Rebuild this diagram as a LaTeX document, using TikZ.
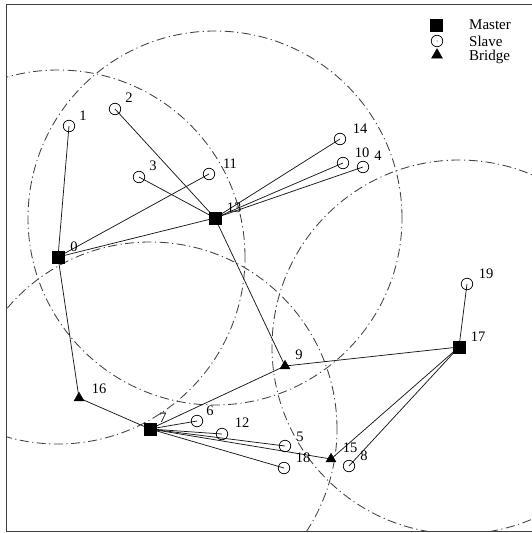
\documentclass[tikz,border=0pt]{standalone}
\usepackage{fontspec}
\setmainfont{Liberation Serif}
\usetikzlibrary{shapes.geometric}
\begin{document}
\begin{tikzpicture}[x=1pt,y=-1pt,
  master/.style={draw=black,fill=black,rectangle,minimum size=11.5pt,inner sep=0pt},
  slave/.style={draw=black,circle,minimum size=11.5pt,inner sep=0pt,line width=0.7pt},
  bridge/.style={draw=black,fill=black,isosceles triangle,isosceles triangle apex angle=60,shape border rotate=90,minimum width=10pt,minimum height=0pt,inner sep=0pt},
  lbl/.style={font=\fontsize{14.5}{16}\selectfont,inner sep=0pt},
  lgd/.style={font=\fontsize{15}{17}\selectfont,inner sep=0pt},
  link/.style={line width=0.75pt,black!90},
  rangecirc/.style={line width=0.85pt,black!75,dash pattern=on 9pt off 3.5pt on 1.2pt off 3.5pt},
  frameline/.style={line width=0.8pt,black!75}]
\useasboundingbox (0,0) rectangle (532,533);
% node positions
\coordinate (p0) at (58,257);
\coordinate (p13) at (215,218);
\coordinate (p7) at (150,429);
\coordinate (p17) at (459,347);
% range circles
\begin{scope}
\clip (6,4) rectangle (532,531);
\draw[rangecirc] (p0) circle (187pt);
\draw[rangecirc] (p13) circle (187pt);
\draw[rangecirc] (p7) circle (187pt);
\draw[rangecirc] (p17) circle (187pt);
\end{scope}
% frame
\coordinate (f1) at (6,531);
\coordinate (f2) at (6,4);
\coordinate (f3) at (532,4);
\coordinate (f4) at (532,531);
\draw[frameline] (f4) -- (f1) -- (f2) -- (f3);
% links
\draw[link] (p0) -- (69,126) coordinate (p1);
\draw[link] (p0) -- (209,174) coordinate (p11);
\draw[link] (p0) -- (p13);
\draw[link] (p0) -- (79,398) coordinate (p16);
\draw[link] (p13) -- (115,109) coordinate (p2);
\draw[link] (p13) -- (139,177) coordinate (p3);
\draw[link] (p13) -- (340,139) coordinate (p14);
\draw[link] (p13) -- (343,163) coordinate (p10);
\draw[link] (p13) -- (363,167) coordinate (p4);
\draw[link] (p13) -- (285,366) coordinate (p9);
\draw[link] (p16) -- (p7);
\draw[link] (p7) -- (197,421) coordinate (p6);
\draw[link] (p7) -- (222,434) coordinate (p12);
\draw[link] (p7) -- (p9);
\draw[link] (p7) -- (285,446) coordinate (p5);
\draw[link] (p7) -- (331,459) coordinate (p15);
\draw[link] (p7) -- (284,468) coordinate (p18);
\draw[link] (p9) -- (p17);
\draw[link] (p17) -- (467,284) coordinate (p19);
\draw[link] (p17) -- (p15);
\draw[link] (p17) -- (349,466) coordinate (p8);
% markers
\node[master] (n0) at (p0) {};
\node[master] (n13) at (p13) {};
\node[master] (n7) at (p7) {};
\node[master] (n17) at (p17) {};
\node[slave] (n1) at (p1) {};
\node[slave] (n2) at (p2) {};
\node[slave] (n3) at (p3) {};
\node[slave] (n11) at (p11) {};
\node[slave] (n14) at (p14) {};
\node[slave] (n10) at (p10) {};
\node[slave] (n4) at (p4) {};
\node[slave] (n6) at (p6) {};
\node[slave] (n12) at (p12) {};
\node[slave] (n5) at (p5) {};
\node[slave] (n18) at (p18) {};
\node[slave] (n8) at (p8) {};
\node[slave] (n19) at (p19) {};
\node[bridge] (n16) at (p16) {};
\node[bridge] (n9) at (p9) {};
\node[bridge] (n15) at (p15) {};
% labels
\node[lbl] (l0) at (74,247) {0};
\node[lbl] (l1) at (83,116) {1};
\node[lbl] (l2) at (129,98) {2};
\node[lbl] (l3) at (153,166) {3};
\node[lbl] (l11) at (230,164) {11};
\node[lbl] (l13) at (234,208) {13};
\node[lbl] (l14) at (360,129) {14};
\node[lbl] (l10) at (362,153) {10};
\node[lbl] (l4) at (378,156) {4};
\node[lbl] (l16) at (99,389) {16};
\node[lbl] (l7) at (163,418) {7};
\node[lbl] (l6) at (210,411) {6};
\node[lbl] (l12) at (242,423) {12};
\node[lbl] (l9) at (299,355) {9};
\node[lbl] (l17) at (478,337) {17};
\node[lbl] (l19) at (486,274) {19};
\node[lbl] (l5) at (300,437) {5};
\node[lbl] (l18) at (303,458) {18};
\node[lbl] (l15) at (350,448) {15};
\node[lbl] (l8) at (364,456) {8};
% legend
\node[master] (lgm) at (436,25) {};
\node[slave] (lgs) at (437,41) {};
\fill (lgs.center) circle (0.5pt);
\node[bridge,minimum width=11pt] (lgb) at (437,55) {};
\node[lgd,anchor=west] (tm) at (469,25) {Master};
\node[lgd,anchor=west] (ts) at (469,41) {Slave};
\node[lgd,anchor=west] (tb) at (469,57) {Bridge};
\end{tikzpicture}
\end{document}
